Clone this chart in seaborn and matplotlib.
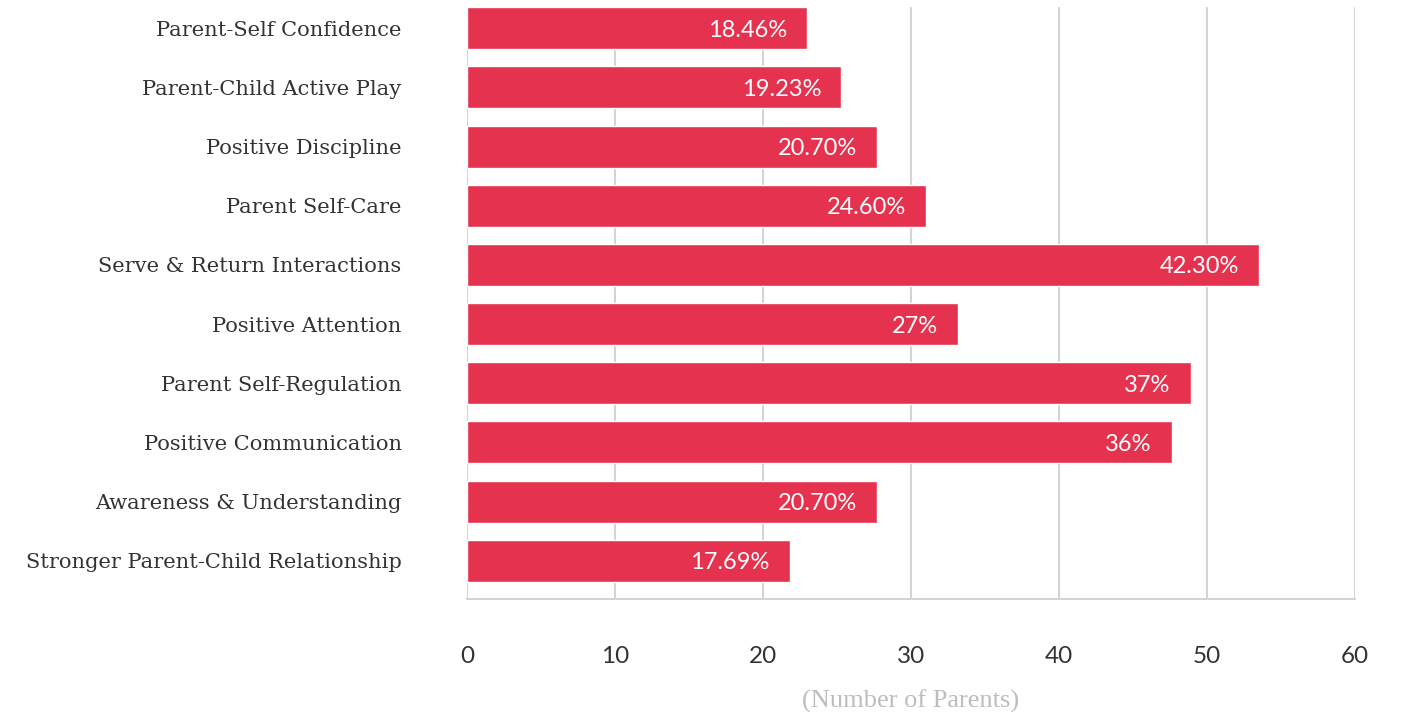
import matplotlib
matplotlib.use("Agg")
import matplotlib.pyplot as plt; import seaborn as sns
import pandas as pd

# 데이터
categories = ["Parent-Self Confidence", "Parent-Child Active Play", "Positive Discipline",
              "Parent Self-Care", "Serve & Return Interactions", "Positive Attention",
              "Parent Self-Regulation", "Positive Communication", "Awareness & Understanding",
              "Stronger Parent-Child Relationship"]
parents = [23, 25.3, 27.7, 31, 53.5, 33.2, 48.9, 47.6, 27.7, 21.8]
pct_labels = ["18.46%", "19.23%", "20.70%", "24.60%", "42.30%", "27%", "37%", "36%", "20.70%", "17.69%"]
xticks = [0, 10, 20, 30, 40, 50, 60]

df = pd.DataFrame({"category": categories, "parents": parents})

sns.set_style("white")
plt.rcParams['font.family'] = ['DejaVu Serif']

fig = plt.figure(figsize=(14.07, 7.16), dpi=100)
ax = fig.add_axes([0.3319, 0.1634, 0.6312, 0.8266])

grid_c = "#d4d4d4"
sns.barplot(data=df, x="parents", y="category", orient="h", color="#E5324F",
            width=0.71, saturation=1, ax=ax, zorder=3)

for i, (v, lab) in enumerate(zip(parents, pct_labels)):
    ax.annotate(lab, xy=(v, i), xytext=(-14.4, 0), textcoords="offset points",
                ha="right", va="center_baseline", color="white", fontsize=17,
                family=["Lato", "DejaVu Sans"], zorder=4)

ax.set_xlim(0, 60)
ax.set_ylim(9.645, -0.355)
ax.set_xticks(xticks)
ax.set_xticklabels([str(t) for t in xticks], family=["Lato", "DejaVu Sans"], fontsize=17.5, color="#333333")
ax.xaxis.grid(True, color=grid_c, linewidth=1.5, zorder=0)
ax.yaxis.grid(False)
ax.tick_params(axis="x", length=13, width=1.5, color=grid_c, pad=21)
ax.tick_params(axis="y", length=0, pad=47)
for lab in ax.get_yticklabels():
    lab.set_fontsize(15.1)
    lab.set_color("#333333")

for s in ["top", "right", "left"]:
    ax.spines[s].set_visible(False)
ax.spines["bottom"].set_color(grid_c)
ax.spines["bottom"].set_linewidth(1.5)

ax.set_ylabel("")
ax.set_xlabel("(Number of Parents)", color="#bdbdbd", fontsize=19, labelpad=16,
              family=["Liberation Serif"])

fig.savefig("out.png", dpi=100)
